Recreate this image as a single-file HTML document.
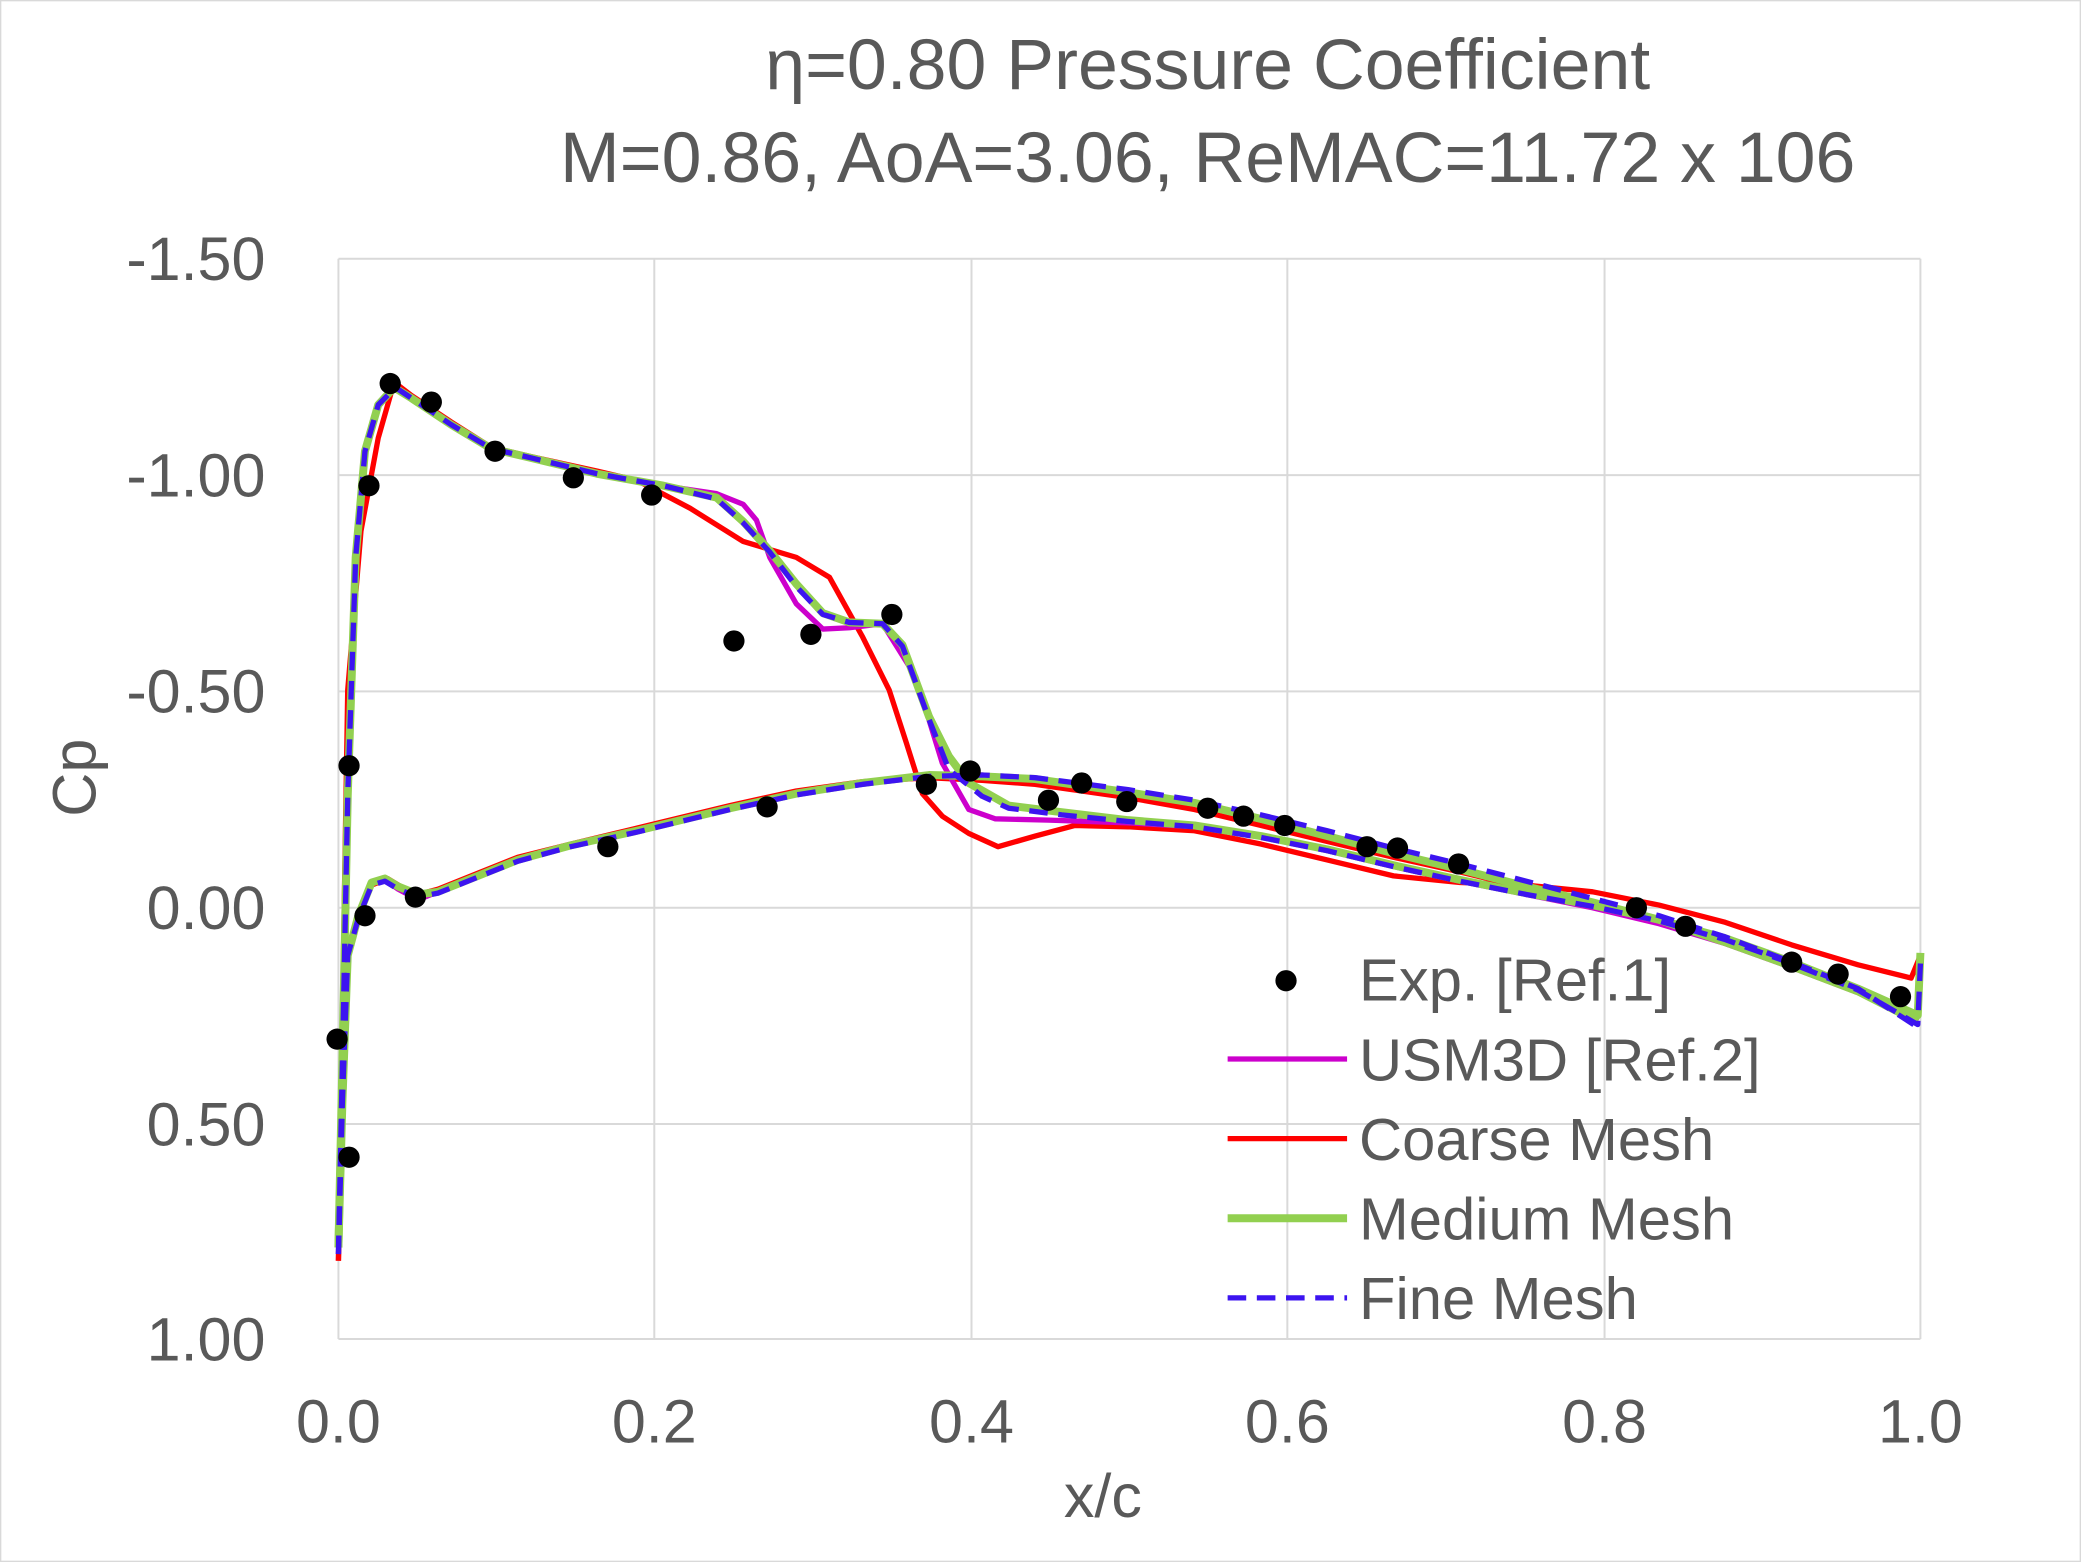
<!DOCTYPE html>
<html><head><meta charset="utf-8"><style>html,body{margin:0;padding:0;background:#fff}svg{display:block}</style></head>
<body>
<svg width="2081" height="1562" viewBox="0 0 1568 1177" preserveAspectRatio="none" xmlns="http://www.w3.org/2000/svg" font-family="Liberation Sans, sans-serif" fill="#595959">
<rect x="0.5" y="0.5" width="1567" height="1176" fill="#fff" stroke="#d9d9d9"/>
<g stroke="#d9d9d9" stroke-width="1.5">
<line x1="255" y1="195" x2="1447" y2="195"/><line x1="255" y1="358" x2="1447" y2="358"/><line x1="255" y1="521" x2="1447" y2="521"/><line x1="255" y1="684" x2="1447" y2="684"/><line x1="255" y1="847" x2="1447" y2="847"/><line x1="255" y1="1009" x2="1447" y2="1009"/>
<line x1="255" y1="195" x2="255" y2="1009"/><line x1="493" y1="195" x2="493" y2="1009"/><line x1="732" y1="195" x2="732" y2="1009"/><line x1="970" y1="195" x2="970" y2="1009"/><line x1="1209" y1="195" x2="1209" y2="1009"/><line x1="1447" y1="195" x2="1447" y2="1009"/>
</g>
<g font-size="54" text-anchor="middle">
<text x="910" y="67">η=0.80 Pressure Coefficient</text>
<text x="910" y="137">M=0.86, AoA=3.06, ReMAC=11.72 x 106</text>
</g>
<g font-size="46" text-anchor="end">
<text x="200" y="211">-1.50</text><text x="200" y="374">-1.00</text><text x="200" y="537">-0.50</text><text x="200" y="700">0.00</text><text x="200" y="863">0.50</text><text x="200" y="1025">1.00</text>
</g>
<g font-size="46" text-anchor="middle">
<text x="255" y="1087">0.0</text><text x="493" y="1087">0.2</text><text x="732" y="1087">0.4</text><text x="970" y="1087">0.6</text><text x="1209" y="1087">0.8</text><text x="1447" y="1087">1.0</text>
<text x="831" y="1143">x/c</text>
<text transform="translate(72,586) rotate(-90)">Cp</text>
</g>
<g fill="none" stroke-linejoin="round">
<path stroke="#ff0000" stroke-width="4" d="M255,950 L262,520 L272,400 L285,330 L297,288 L310,298 L340,318 L370,337 L400,344 L450,355 L480,362 L520,383 L560,408 L600,420 L625,435 L650,480 L670,520 L683,560 L695,598 L710,615 L730,628 L752,638 L780,630 L810,622 L850,623 L900,626 L950,636 L1000,648 L1050,660 L1100,665 L1150,667 L1200,672 L1250,682 L1300,695 L1350,712 L1400,727 L1440,737 L1447,720"/>
<path stroke="#ff0000" stroke-width="4" d="M255,950 L258,830 L262,720 L270,690 L280,667 L292,662 L302,668 L315,674 L330,670 L360,658 L390,646 L430,636 L480,624 L550,607 L600,596 L650,589 L700,586 L740,588 L780,591 L850,601 L900,610 L950,622 L1000,634 L1050,646 L1100,657 L1150,669 L1200,681 L1250,694 L1300,710 L1350,728 L1400,748 L1445,768"/>
<path stroke="#cc00cc" stroke-width="4" d="M255,940 L258,800 L262,600 L268,420 L275,340 L285,305 L297,292 L310,300 L340,320 L370,338 L400,345 L450,357 L500,366 L540,372 L560,380 L570,392 L580,420 L600,455 L620,474 L640,473 L665,470 L690,510 L710,575 L730,610 L750,617 L790,618 L850,620 L900,623 L950,630 L1000,641 L1050,653 L1100,664 L1150,674 L1200,684 L1250,696 L1300,711 L1350,729 L1400,748 L1445,770"/>
<path stroke="#cc00cc" stroke-width="4" d="M255,940 L258,830 L262,720 L270,690 L280,665 L290,663 L300,670 L315,678 L330,672 L360,660 L390,648 L430,637 L480,626 L550,609 L600,598 L650,590 L700,584 L740,584 L780,587 L850,597 L900,605 L950,617 L1000,630 L1050,643 L1100,655 L1150,668 L1200,680 L1250,693 L1300,710 L1350,728 L1400,747 L1445,770"/>
<path stroke="#92d050" stroke-width="6" d="M255,940 L258,800 L262,600 L268,420 L275,340 L285,305 L297,292 L310,300 L340,320 L370,338 L400,345 L450,357 L500,366 L540,375 L560,393 L580,415 L600,440 L620,462 L640,469 L665,470 L680,486 L700,540 L715,570 L730,590 L760,607 L800,612 L850,618 L900,622 L950,630 L1000,640 L1050,652 L1100,663 L1150,673 L1200,682 L1250,693 L1300,707 L1350,725 L1400,745 L1445,765 L1447,718"/>
<path stroke="#92d050" stroke-width="6" d="M255,940 L258,830 L262,720 L270,690 L280,665 L290,662 L300,668 L315,674 L330,672 L360,660 L390,648 L430,637 L480,626 L550,609 L600,598 L650,590 L700,584 L740,585 L780,587 L850,597 L900,605 L950,617 L1000,630 L1050,643 L1100,655 L1150,668 L1200,680 L1250,693 L1300,710 L1350,728 L1400,747 L1445,770"/>
<path stroke="#3c14f0" stroke-width="4" stroke-dasharray="14,8" d="M255,945 L258,800 L262,600 L268,420 L275,340 L285,305 L298,292 L310,300 L340,320 L370,338 L400,345 L450,357 L500,366 L540,376 L560,394 L580,416 L600,442 L620,463 L640,469 L665,470 L680,487 L700,542 L715,580 L740,600 L760,609 L800,614 L850,619 L900,623 L950,631 L1000,641 L1050,653 L1100,664 L1150,674 L1200,683 L1250,694 L1300,708 L1350,726 L1400,746 L1445,772 L1447,726"/>
<path stroke="#3c14f0" stroke-width="4" stroke-dasharray="14,8" d="M255,945 L258,830 L262,720 L270,692 L280,667 L290,664 L300,670 L315,676 L330,673 L360,661 L390,649 L430,638 L480,627 L550,610 L600,599 L650,591 L700,585 L740,584 L780,586 L850,595 L900,603 L950,614 L1000,626 L1050,639 L1100,651 L1150,664 L1200,677 L1250,690 L1300,706 L1350,725 L1400,745 L1445,774"/>
</g>
<g fill="#000">
<circle cx="254" cy="783" r="8"/><circle cx="263" cy="872" r="8"/><circle cx="263" cy="577" r="8"/><circle cx="278" cy="366" r="8"/><circle cx="275" cy="690" r="8"/><circle cx="294" cy="289" r="8"/><circle cx="313" cy="676" r="8"/><circle cx="325" cy="303" r="8"/><circle cx="373" cy="340" r="8"/><circle cx="432" cy="360" r="8"/><circle cx="458" cy="638" r="8"/><circle cx="491" cy="373" r="8"/><circle cx="553" cy="483" r="8"/><circle cx="578" cy="608" r="8"/><circle cx="611" cy="478" r="8"/><circle cx="672" cy="463" r="8"/><circle cx="698" cy="591" r="8"/><circle cx="731" cy="581" r="8"/><circle cx="790" cy="603" r="8"/><circle cx="815" cy="590" r="8"/><circle cx="849" cy="604" r="8"/><circle cx="910" cy="609" r="8"/><circle cx="937" cy="615" r="8"/><circle cx="968" cy="622" r="8"/><circle cx="1030" cy="638" r="8"/><circle cx="1053" cy="639" r="8"/><circle cx="1099" cy="651" r="8"/><circle cx="1233" cy="684" r="8"/><circle cx="1270" cy="698" r="8"/><circle cx="1350" cy="725" r="8"/><circle cx="1385" cy="734" r="8"/><circle cx="1432" cy="751" r="8"/>
</g>
<g font-size="45">
<circle cx="969" cy="739" r="8" fill="#000"/><text x="1024" y="754">Exp. [Ref.1]</text>
<line x1="925" y1="798" x2="1015" y2="798" stroke="#cc00cc" stroke-width="4"/><text x="1024" y="814">USM3D [Ref.2]</text>
<line x1="925" y1="858" x2="1015" y2="858" stroke="#ff0000" stroke-width="4"/><text x="1024" y="874">Coarse Mesh</text>
<line x1="925" y1="918" x2="1015" y2="918" stroke="#92d050" stroke-width="6"/><text x="1024" y="934">Medium Mesh</text>
<line x1="925" y1="978" x2="1015" y2="978" stroke="#3c14f0" stroke-width="4" stroke-dasharray="14,8"/><text x="1024" y="994">Fine Mesh</text>
</g>
</svg>
</body></html>
